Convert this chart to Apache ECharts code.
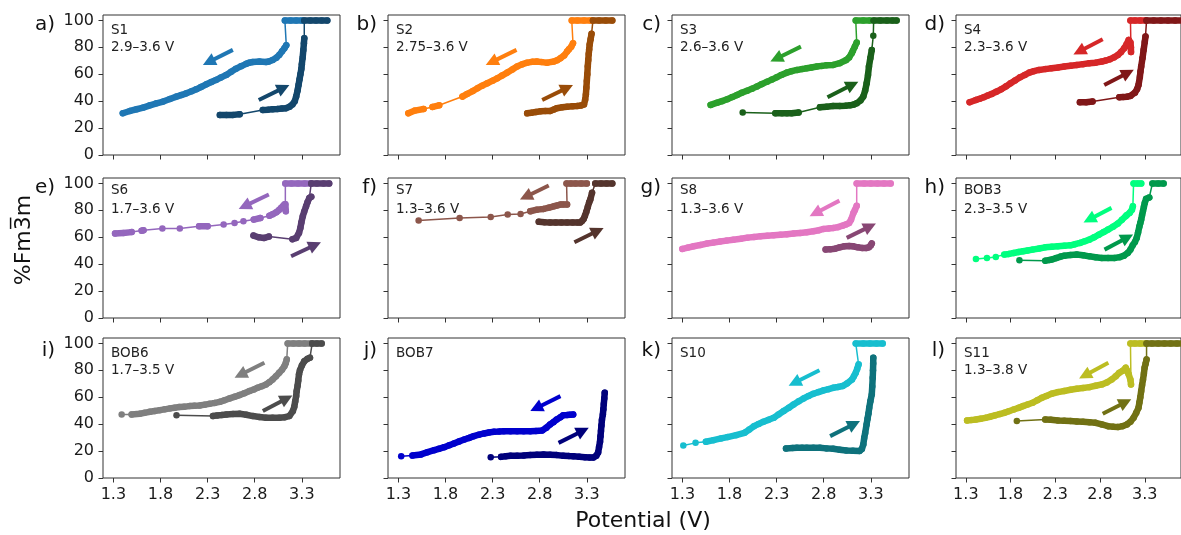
<!DOCTYPE html>
<html><head><meta charset="utf-8">
<script src="https://cdn.jsdelivr.net/npm/echarts@6/dist/echarts.min.js"></script>
<style>html,body{margin:0;padding:0;background:#fff}#c{width:1181px;height:535px}</style>
</head><body><div id="c"></div>
<script>
// ---------------- data ----------------
const panelTags = ['a)','b)','c)','d)','e)','f)','g)','h)','i)','j)','k)','l)'];
const sampleNames = ['S1','S2','S3','S4','S6','S7','S8','BOB3','BOB6','BOB7','S10','S11'];
const voltageRanges = ['2.9\u20133.6 V','2.75\u20133.6 V','2.6\u20133.6 V','2.3\u20133.6 V','1.7\u20133.6 V','1.3\u20133.6 V','1.3\u20133.6 V','2.3\u20133.5 V','1.7\u20133.5 V','','','1.3\u20133.8 V'];
const dischargeColors = ['#1f77b4','#ff7f0e','#2ca02c','#d62728','#9467bd','#8c564b','#e377c2','#00ff7f','#7f7f7f','#0000cd','#17becf','#bcbd22'];
const chargeColors = ['#13476c','#994c08','#1a601a','#801718','#593e71','#54342d','#884774','#00994c','#4c4c4c','#00007b','#0e727c','#717114'];
const xTickValues = [1.3, 1.8, 2.3, 2.8, 3.3];
const yTickValues = [0, 20, 40, 60, 80, 100];
const xAxisLabel = 'Potential (V)';
const yAxisLabel = '%Fm3\u0305m';

const S1_discharge = [[3.30,100],[3.24,100],[3.18,100],[3.12,100],[3.135,81.5],[3.115,79.3],[3.09,77],[3.06,74.3],[3.03,72.3],[2.99,70.6],[2.95,69.5],[2.92,69.1],[2.85,69.4],[2.78,69.1],[2.74,68.5],[2.71,67.7],[2.655,66],[2.60,64],[2.55,61.8],[2.498,59.5],[2.44,57.5],[2.39,55.8],[2.34,54.2],[2.287,52.5],[2.23,50.5],[2.18,48.8],[2.13,47.3],[2.075,45.8],[2.02,44.5],[1.97,43.4],[1.9,41.6],[1.829,39.7],[1.758,38.4],[1.688,36.9],[1.617,35.2],[1.547,34],[1.476,32.7],[1.40,31.0]];
const S1_charge = [[2.43,29.7],[2.50,29.8],[2.57,29.8],[2.64,30.2],[2.886,33.5],[2.94,33.7],[2.99,34],[3.04,34.2],[3.09,34.5],[3.13,34.7],[3.17,35.9],[3.20,37.5],[3.225,40],[3.24,43.4],[3.255,48],[3.265,52],[3.275,56],[3.285,60],[3.295,64],[3.30,67.5],[3.308,72],[3.316,78],[3.322,83],[3.326,86.7],[3.326,100],[3.39,100],[3.45,100],[3.51,100],[3.57,100]];

const S2_discharge = [[3.34,100],[3.27,100],[3.20,100],[3.14,100],[3.153,83],[3.135,80.5],[3.11,78.5],[3.09,76.8],[3.06,74],[3.02,71.9],[2.985,70.4],[2.95,69.4],[2.88,68.6],[2.82,69],[2.77,69.4],[2.72,69.2],[2.667,68.6],[2.61,67.3],[2.56,65.7],[2.51,63.6],[2.456,61.2],[2.40,59],[2.35,57],[2.30,55.2],[2.244,53.3],[2.19,51.5],[2.14,49.6],[2.09,47.5],[2.03,45.4],[1.98,43.4],[1.733,36.9],[1.663,35.7],[1.568,34.2],[1.476,33],[1.406,31]];
const S2_charge = [[2.667,31],[2.71,31.4],[2.76,32],[2.81,32.5],[2.86,32.7],[2.91,32.7],[2.95,33.8],[2.98,34.7],[3.04,35.5],[3.09,35.9],[3.15,36.2],[3.196,36.4],[3.24,36.8],[3.27,37.5],[3.282,41],[3.29,45],[3.295,50],[3.30,55],[3.305,60],[3.31,66],[3.315,70.5],[3.32,75],[3.325,78.5],[3.33,82],[3.34,86],[3.35,90],[3.365,100],[3.43,100],[3.50,100],[3.57,100]];

const S3_discharge = [[3.29,100],[3.22,100],[3.14,100],[3.15,83.5],[3.13,80.5],[3.11,77.5],[3.097,75.6],[3.07,72.5],[3.04,70.6],[2.97,68.2],[2.90,66.9],[2.83,66.7],[2.78,66.2],[2.727,65.7],[2.67,65],[2.62,64.4],[2.57,63.8],[2.516,63.2],[2.46,62.3],[2.41,61.2],[2.35,59.5],[2.30,57.7],[2.25,56],[2.2,54.5],[2.14,52.6],[2.09,50.8],[2.04,49.3],[1.987,47.8],[1.93,46.2],[1.88,44.6],[1.83,43],[1.776,41.4],[1.72,40],[1.67,38.9],[1.6,37.2]];
const S3_charge = [[1.94,31.5],[2.287,31],[2.357,31],[2.41,31],[2.46,31],[2.533,31.5],[2.76,35.4],[2.83,35.9],[2.90,36.4],[2.97,36.4],[3.03,36.6],[3.08,36.9],[3.12,37.5],[3.15,38.4],[3.19,40.5],[3.22,43.4],[3.24,48],[3.256,53.3],[3.27,59.5],[3.28,65.7],[3.295,72],[3.31,78],[3.326,88.5],[3.33,100],[3.40,100],[3.47,100],[3.53,100],[3.573,100]];

const S4_discharge = [[3.31,100],[3.25,100],[3.19,100],[3.14,100],[3.146,76.5],[3.145,80],[3.14,83.5],[3.12,85.5],[3.095,82],[3.07,79.3],[3.035,76.5],[3.0,74.3],[2.955,72.5],[2.91,71.1],[2.865,70.2],[2.82,69.4],[2.75,68.6],[2.68,68.2],[2.61,67.5],[2.54,66.9],[2.47,66.3],[2.40,65.7],[2.33,65],[2.258,64.4],[2.19,63.8],[2.117,63.2],[2.06,62.3],[2.01,61.2],[1.96,59.5],[1.906,57.7],[1.85,55.4],[1.80,53.3],[1.75,51],[1.695,48.8],[1.64,47],[1.59,45.4],[1.545,44.2],[1.5,42.9],[1.455,41.8],[1.413,40.9],[1.342,39.2]];
const S4_charge = [[2.575,39.2],[2.645,39.2],[2.716,39.7],[3.016,42.9],[3.06,43],[3.10,43.3],[3.14,43.9],[3.19,46.3],[3.215,49],[3.23,52],[3.245,58],[3.252,62],[3.26,65.7],[3.275,72],[3.287,78],[3.30,84],[3.308,88],[3.32,100],[3.40,100],[3.48,100],[3.56,100],[3.64,100],[3.72,100]];

const S6_discharge = [[3.397,100],[3.33,100],[3.26,100],[3.19,100],[3.125,100],[3.125,84.5],[3.13,79.3],[3.115,84.3],[3.10,83],[3.08,81.8],[3.055,80],[3.03,78.6],[2.99,77],[2.956,76],[2.86,74.3],[2.79,73.1],[2.68,71.9],[2.586,70.6],[2.47,69.4],[2.30,68.2],[2.21,68.2],[2.005,66.4],[1.82,66.4],[1.62,65.2],[1.6,64.9],[1.494,63.8],[1.406,63.2],[1.318,62.7]];
const S6_charge = [[2.787,61.2],[2.84,60],[2.9,59.5],[2.95,60.5],[3.20,58.5],[3.24,59.5],[3.27,63.2],[3.285,67],[3.295,71],[3.31,75.6],[3.325,79],[3.345,83],[3.36,86],[3.38,89.2],[3.40,90],[3.40,100],[3.46,100],[3.53,100],[3.59,100]];

const S7_discharge = [[3.30,100],[3.24,100],[3.18,100],[3.13,100],[3.085,100],[3.09,84.3],[3.05,84.3],[3.02,84.3],[2.98,83.5],[2.95,83],[2.90,82],[2.84,81],[2.77,80.5],[2.70,79.3],[2.597,77.3],[2.46,76.8],[2.28,75.1],[1.95,74.3],[1.515,72.4]];
const S7_charge = [[2.79,71.5],[2.85,71.2],[2.91,71],[2.97,71],[3.03,71],[3.09,71],[3.15,71],[3.20,71],[3.231,71],[3.25,72],[3.266,73.5],[3.28,76],[3.295,79],[3.31,82.5],[3.325,86],[3.337,88],[3.355,93],[3.39,100],[3.45,100],[3.51,100],[3.57,100]];

const S8_discharge = [[3.51,100],[3.44,100],[3.37,100],[3.30,100],[3.23,100],[3.15,100],[3.15,83.3],[3.13,80],[3.115,78],[3.09,73],[3.07,70.6],[3.035,69.5],[3.0,68.6],[2.95,67.5],[2.9,66.9],[2.85,66.5],[2.8,66.2],[2.75,65.2],[2.69,64.4],[2.62,63.7],[2.55,63.2],[2.48,62.7],[2.41,62.2],[2.34,61.8],[2.27,61.5],[2.20,61.1],[2.13,60.7],[2.06,60.2],[1.99,59.7],[1.92,58.9],[1.84,58.2],[1.77,57.5],[1.70,56.8],[1.63,56],[1.56,55.3],[1.49,54.2],[1.42,53.3],[1.36,52.3],[1.3,51.3]];
const S8_charge = [[2.82,50.8],[2.87,51],[2.92,51.5],[2.97,52.5],[3.02,53.3],[3.07,53.5],[3.11,53.3],[3.16,52.5],[3.21,52],[3.25,52],[3.28,52.5],[3.30,53.8],[3.31,55.3]];

const BOB3_discharge = [[3.26,100],[3.22,100],[3.175,100],[3.167,83],[3.157,80.5],[3.13,78],[3.10,76.5],[3.087,75.6],[3.045,73],[3.0,70.2],[2.945,67.8],[2.89,65.7],[2.84,63.8],[2.787,61.9],[2.735,60],[2.68,58.2],[2.63,57],[2.576,55.8],[2.52,54.8],[2.47,54.0],[2.40,53.6],[2.33,53.3],[2.26,52.9],[2.188,52.5],[2.12,51.6],[2.047,50.8],[1.99,50.2],[1.94,49.6],[1.89,49],[1.835,48.3],[1.78,47.6],[1.73,47.1],[1.635,45.4],[1.536,44.6],[1.413,43.9]];
const BOB3_charge = [[1.899,42.9],[2.188,42.6],[2.23,43],[2.258,43.4],[2.31,44.5],[2.36,45.6],[2.40,46.3],[2.47,46.8],[2.54,47.1],[2.61,46.6],[2.68,45.8],[2.75,45.2],[2.82,44.6],[2.89,44.6],[2.96,44.6],[3.02,45.2],[3.068,46.3],[3.11,48.3],[3.14,50.8],[3.165,54],[3.19,56.5],[3.21,59.5],[3.225,63.5],[3.24,68],[3.25,70.5],[3.26,73.1],[3.27,76.5],[3.28,79.5],[3.29,82.5],[3.30,85.5],[3.315,88.5],[3.35,89.5],[3.386,100],[3.45,100],[3.51,100]];

const BOB6_discharge = [[3.397,100],[3.33,100],[3.27,100],[3.21,100],[3.15,100],[3.14,88.1],[3.13,85.5],[3.115,83.1],[3.09,80.5],[3.06,78.2],[3.025,75.5],[2.99,73.2],[2.955,71.2],[2.92,69.5],[2.875,68.2],[2.83,67.0],[2.79,65.8],[2.745,64.6],[2.69,63],[2.64,61.6],[2.585,60.3],[2.533,59.1],[2.48,57.8],[2.43,56.6],[2.375,55.8],[2.32,55.1],[2.27,54.5],[2.216,53.9],[2.16,53.6],[2.11,53.4],[2.05,53],[2.0,52.7],[1.95,52.2],[1.9,51.7],[1.845,51],[1.793,50.4],[1.74,49.8],[1.688,49.2],[1.63,48.4],[1.58,47.7],[1.494,47.2],[1.388,47.2]];
const BOB6_charge = [[1.97,46.7],[2.357,46],[2.40,46.5],[2.45,46.8],[2.50,47.2],[2.57,47.5],[2.64,47.7],[2.71,47],[2.78,46],[2.85,45.3],[2.92,44.7],[2.99,44.7],[3.06,44.7],[3.12,45.2],[3.167,46],[3.205,49.7],[3.22,53],[3.23,57.1],[3.24,61],[3.245,64.5],[3.255,68.5],[3.262,72.5],[3.27,77],[3.28,80],[3.30,83.5],[3.326,86.8],[3.36,88.5],[3.386,89.4],[3.41,100],[3.46,100],[3.51,100]];

const BOB7_discharge = [[3.155,47.2],[3.12,47],[3.09,46.8],[3.05,46.7],[3.02,45.2],[2.98,43.5],[2.945,41.5],[2.91,39.8],[2.87,37.3],[2.826,35.3],[2.76,35],[2.70,34.8],[2.63,34.8],[2.56,34.8],[2.49,34.8],[2.42,34.8],[2.37,34.5],[2.315,34.3],[2.26,33.8],[2.21,33.1],[2.155,32.2],[2.1,31.1],[2.05,29.8],[2.0,28.6],[1.945,27.2],[1.89,25.7],[1.84,24.3],[1.786,22.9],[1.73,21.7],[1.68,20.7],[1.61,19.2],[1.54,17.5],[1.45,16.7],[1.33,16.2]];
const BOB7_charge = [[2.28,15.5],[2.39,15.7],[2.44,16.1],[2.49,16.5],[2.56,16.6],[2.63,16.7],[2.70,17],[2.77,17.3],[2.84,17.5],[2.91,17.2],[2.98,17],[3.05,16.6],[3.11,16.3],[3.155,16.2],[3.22,15.8],[3.28,15.5],[3.33,15.2],[3.37,15.2],[3.40,16.5],[3.42,19],[3.43,23],[3.44,27],[3.445,31],[3.45,35],[3.455,39],[3.46,43],[3.47,47.2],[3.475,51],[3.48,55],[3.485,59],[3.49,63.3]];

const S10_discharge = [[3.425,100],[3.36,100],[3.29,100],[3.22,100],[3.14,100],[3.17,84.4],[3.155,81],[3.14,78.2],[3.12,75.5],[3.1,73.2],[3.05,70.3],[3.0,68.3],[2.95,67.6],[2.9,67],[2.85,66],[2.8,65.1],[2.745,63.8],[2.69,62.6],[2.64,61],[2.586,59.1],[2.535,57],[2.48,54.6],[2.43,52.2],[2.375,49.7],[2.32,47.2],[2.27,44.7],[2.215,43.2],[2.16,41.8],[2.11,40.2],[2.06,38.5],[2.01,36],[1.96,33.6],[1.87,31.8],[1.78,30.4],[1.71,29.4],[1.63,28.1],[1.55,26.9],[1.44,26.1],[1.31,24.2]];
const S10_charge = [[2.4,21.9],[2.47,22.2],[2.515,22.4],[2.57,22.4],[2.62,22.4],[2.69,22.4],[2.76,22.4],[2.83,22],[2.9,21.7],[2.97,21],[3.04,20.4],[3.11,20.2],[3.18,20],[3.205,21.5],[3.22,24.9],[3.23,29.9],[3.24,33.5],[3.255,39.8],[3.265,44],[3.275,48],[3.283,52.2],[3.295,57],[3.31,62.1],[3.315,68],[3.32,74.5],[3.323,80],[3.325,85],[3.326,89.3]];

const S11_discharge = [[3.315,100],[3.25,100],[3.19,100],[3.14,100],[3.146,69.5],[3.14,73],[3.12,77],[3.10,80],[3.087,81.9],[3.05,79.5],[3.015,78.2],[2.975,75.5],[2.93,73.2],[2.875,71],[2.82,69.5],[2.75,68.5],[2.68,67.5],[2.61,66.9],[2.54,66.3],[2.47,65.5],[2.4,64.6],[2.33,63.8],[2.258,62.6],[2.2,61],[2.15,59.6],[2.10,57.8],[2.047,55.9],[1.99,54.6],[1.94,53.4],[1.89,52.1],[1.835,50.9],[1.78,49.6],[1.73,48.4],[1.68,47.5],[1.624,46.5],[1.57,45.5],[1.52,44.7],[1.465,44],[1.413,43.4],[1.36,43],[1.314,42.7]];
const S11_charge = [[1.87,42.3],[2.188,43.5],[2.25,43.2],[2.33,42.7],[2.40,42.5],[2.47,42.3],[2.54,42],[2.61,41.8],[2.68,41.4],[2.75,41],[2.82,39.8],[2.89,38.5],[2.95,38],[3.0,37.8],[3.05,38.5],[3.1,39.8],[3.14,41.8],[3.175,44.7],[3.205,48.5],[3.23,52.2],[3.24,56],[3.25,60],[3.26,64.6],[3.27,69],[3.28,73],[3.29,77.5],[3.298,81.9],[3.31,85],[3.32,88.1],[3.32,100],[3.38,100],[3.45,100],[3.52,100],[3.59,100],[3.66,100],[3.73,100]];

// direction arrows: [tailV, tail%, tipV, tip%]
const dischargeArrows = [[2.568,78.1,2.25,66.9],[2.554,78.1,2.227,66.9],[2.558,80.5,2.234,69.4],[2.83,86,2.505,74.8],[2.95,91.7,2.63,81],[2.896,98.4,2.59,88],[2.967,87.2,2.65,75.6],[2.928,81.8,2.618,71.1],[2.903,85.6,2.586,74.5],[3.02,60.8,2.70,49.7],[2.755,80,2.428,68.6],[2.893,85.6,2.568,74]];
const chargeArrows = [[2.843,40.9,3.168,52],[2.826,40.9,3.153,52],[2.84,42.9,3.167,54.5],[2.847,52,3.175,63.2],[3.186,45.9,3.503,56.3],[3.168,56.3,3.478,66.9],[3.044,59.5,3.354,70.2],[2.85,50.8,3.167,62],[2.886,49.7,3.2,61.3],[3.0,26.1,3.32,37.3],[2.868,31.1,3.185,42.3],[2.83,47.7,3.146,58.4]];

const dischargeCurves = [S1_discharge,S2_discharge,S3_discharge,S4_discharge,S6_discharge,S7_discharge,S8_discharge,BOB3_discharge,BOB6_discharge,BOB7_discharge,S10_discharge,S11_discharge];
const chargeCurves = [S1_charge,S2_charge,S3_charge,S4_charge,S6_charge,S7_charge,S8_charge,BOB3_charge,BOB6_charge,BOB7_charge,S10_charge,S11_charge];

// ---------------- layout / style ----------------
const X_MIN = 1.19, X_MAX = 3.705, Y_MIN = 0, Y_MAX = 104;
const colLeft = [103, 388, 672, 956];
const rowTop = [15, 178, 338];
const PW = 237, PH = 140;
const PX_V = PW / (X_MAX - X_MIN), PX_P = PH / (Y_MAX - Y_MIN);
const GAP_PX = 9;
const MARK = 6.5;
const FONT = '"DejaVu Sans", sans-serif';
const AXIS_COLOR = '#333';

function denseRuns(pts) {
  const out = [];
  for (let i = 0; i < pts.length; i++) {
    if (i > 0) {
      const dx = (pts[i][0] - pts[i-1][0]) * PX_V, dy = (pts[i][1] - pts[i-1][1]) * PX_P;
      if (Math.hypot(dx, dy) > GAP_PX) out.push(['-', '-']);
    }
    out.push(pts[i]);
  }
  return out;
}
function arrowCoords(a, headLen) {
  const dx = (a[2] - a[0]) * PX_V, dy = (a[3] - a[1]) * PX_P;
  const L = Math.hypot(dx, dy), k = (L - headLen / 2) / L;
  return [[a[0], a[1]], [a[0] + (a[2] - a[0]) * k, a[1] + (a[3] - a[1]) * k]];
}

const grids = [], xAxes = [], yAxes = [], series = [], graphics = [];
for (let i = 0; i < 12; i++) {
  const r = Math.floor(i / 4), c = i % 4;
  grids.push({left: colLeft[c], top: rowTop[r], width: PW, height: PH, show: true, borderColor: AXIS_COLOR, borderWidth: 1, backgroundColor: 'transparent', containLabel: false});
  xAxes.push({type: 'value', gridIndex: i, min: X_MIN, max: X_MAX,
    axisLine: {show: false}, splitLine: {show: false},
    axisTick: {show: true, length: 4.5, lineStyle: {color: AXIS_COLOR, width: 1}, customValues: xTickValues},
    axisLabel: {show: r === 2, customValues: xTickValues, formatter: v => v.toFixed(1), fontFamily: FONT, fontSize: 16, color: '#1a1a1a', margin: 9}});
  yAxes.push({type: 'value', gridIndex: i, min: Y_MIN, max: Y_MAX,
    axisLine: {show: false}, splitLine: {show: false},
    axisTick: {show: true, length: 4.5, lineStyle: {color: AXIS_COLOR, width: 1}, customValues: yTickValues},
    axisLabel: {show: c === 0, customValues: yTickValues, fontFamily: FONT, fontSize: 16, color: '#1a1a1a', margin: 9}});

  const pairs = [[dischargeCurves[i], dischargeColors[i], 2], [chargeCurves[i], chargeColors[i], 4]];
  for (const [pts, col, z] of pairs) {
    series.push({type: 'line', xAxisIndex: i, yAxisIndex: i, data: denseRuns(pts), showSymbol: false, symbol: 'none',
      lineStyle: {width: MARK, color: col, cap: 'round', join: 'round'}, z: z, silent: true, connectNulls: false});
    series.push({type: 'line', xAxisIndex: i, yAxisIndex: i, data: pts, symbol: 'circle', symbolSize: MARK, showSymbol: true,
      itemStyle: {color: col, borderWidth: 0}, lineStyle: {width: 1.5, color: col}, z: z + 1, silent: true});
  }
  const HEAD = 13;
  series.push({type: 'lines', coordinateSystem: 'cartesian2d', xAxisIndex: i, yAxisIndex: i, z: 10, silent: true,
    symbol: ['none', 'triangle'], symbolSize: HEAD,
    data: [
      {coords: arrowCoords(dischargeArrows[i], HEAD), lineStyle: {color: dischargeColors[i], width: 4, opacity: 1}},
      {coords: arrowCoords(chargeArrows[i], HEAD), lineStyle: {color: chargeColors[i], width: 4, opacity: 1}}
    ]});

  // panel tag
  const tagY = [25, 188, 351][r];
  const tagX = c === 0 ? 55 : colLeft[c] - 11;
  graphics.push({type: 'text', x: tagX, y: tagY, style: {text: panelTags[i], font: '20px ' + FONT, fill: '#111', align: 'right', verticalAlign: 'middle', textAlign: 'right', textVerticalAlign: 'middle'}});
  const l1 = [30, 190, 353][r], l2 = [47.5, 209.5, 370.5][r];
  graphics.push({type: 'text', x: colLeft[c] + 8, y: l1, style: {text: sampleNames[i], font: '13.5px ' + FONT, fill: '#222', align: 'left', verticalAlign: 'middle', textAlign: 'left', textVerticalAlign: 'middle'}});
  if (voltageRanges[i]) graphics.push({type: 'text', x: colLeft[c] + 8, y: l2, style: {text: voltageRanges[i], font: '13.5px ' + FONT, fill: '#222', align: 'left', verticalAlign: 'middle', textAlign: 'left', textVerticalAlign: 'middle'}});
}
graphics.push({type: 'text', x: 643, y: 521, style: {text: xAxisLabel, font: '22px ' + FONT, fill: '#111', align: 'center', verticalAlign: 'middle', textAlign: 'center', textVerticalAlign: 'middle'}});
graphics.push({type: 'text', x: 24, y: 240, rotation: Math.PI / 2, style: {text: yAxisLabel, font: '22px ' + FONT, fill: '#111', align: 'center', verticalAlign: 'middle', textAlign: 'center', textVerticalAlign: 'middle'}});

const chart = echarts.init(document.getElementById('c'), null, {renderer: 'canvas'});
chart.setOption({animation: false, backgroundColor: '#fff', grid: grids, xAxis: xAxes, yAxis: yAxes, series: series, graphic: {elements: graphics}});
</script></body></html>
